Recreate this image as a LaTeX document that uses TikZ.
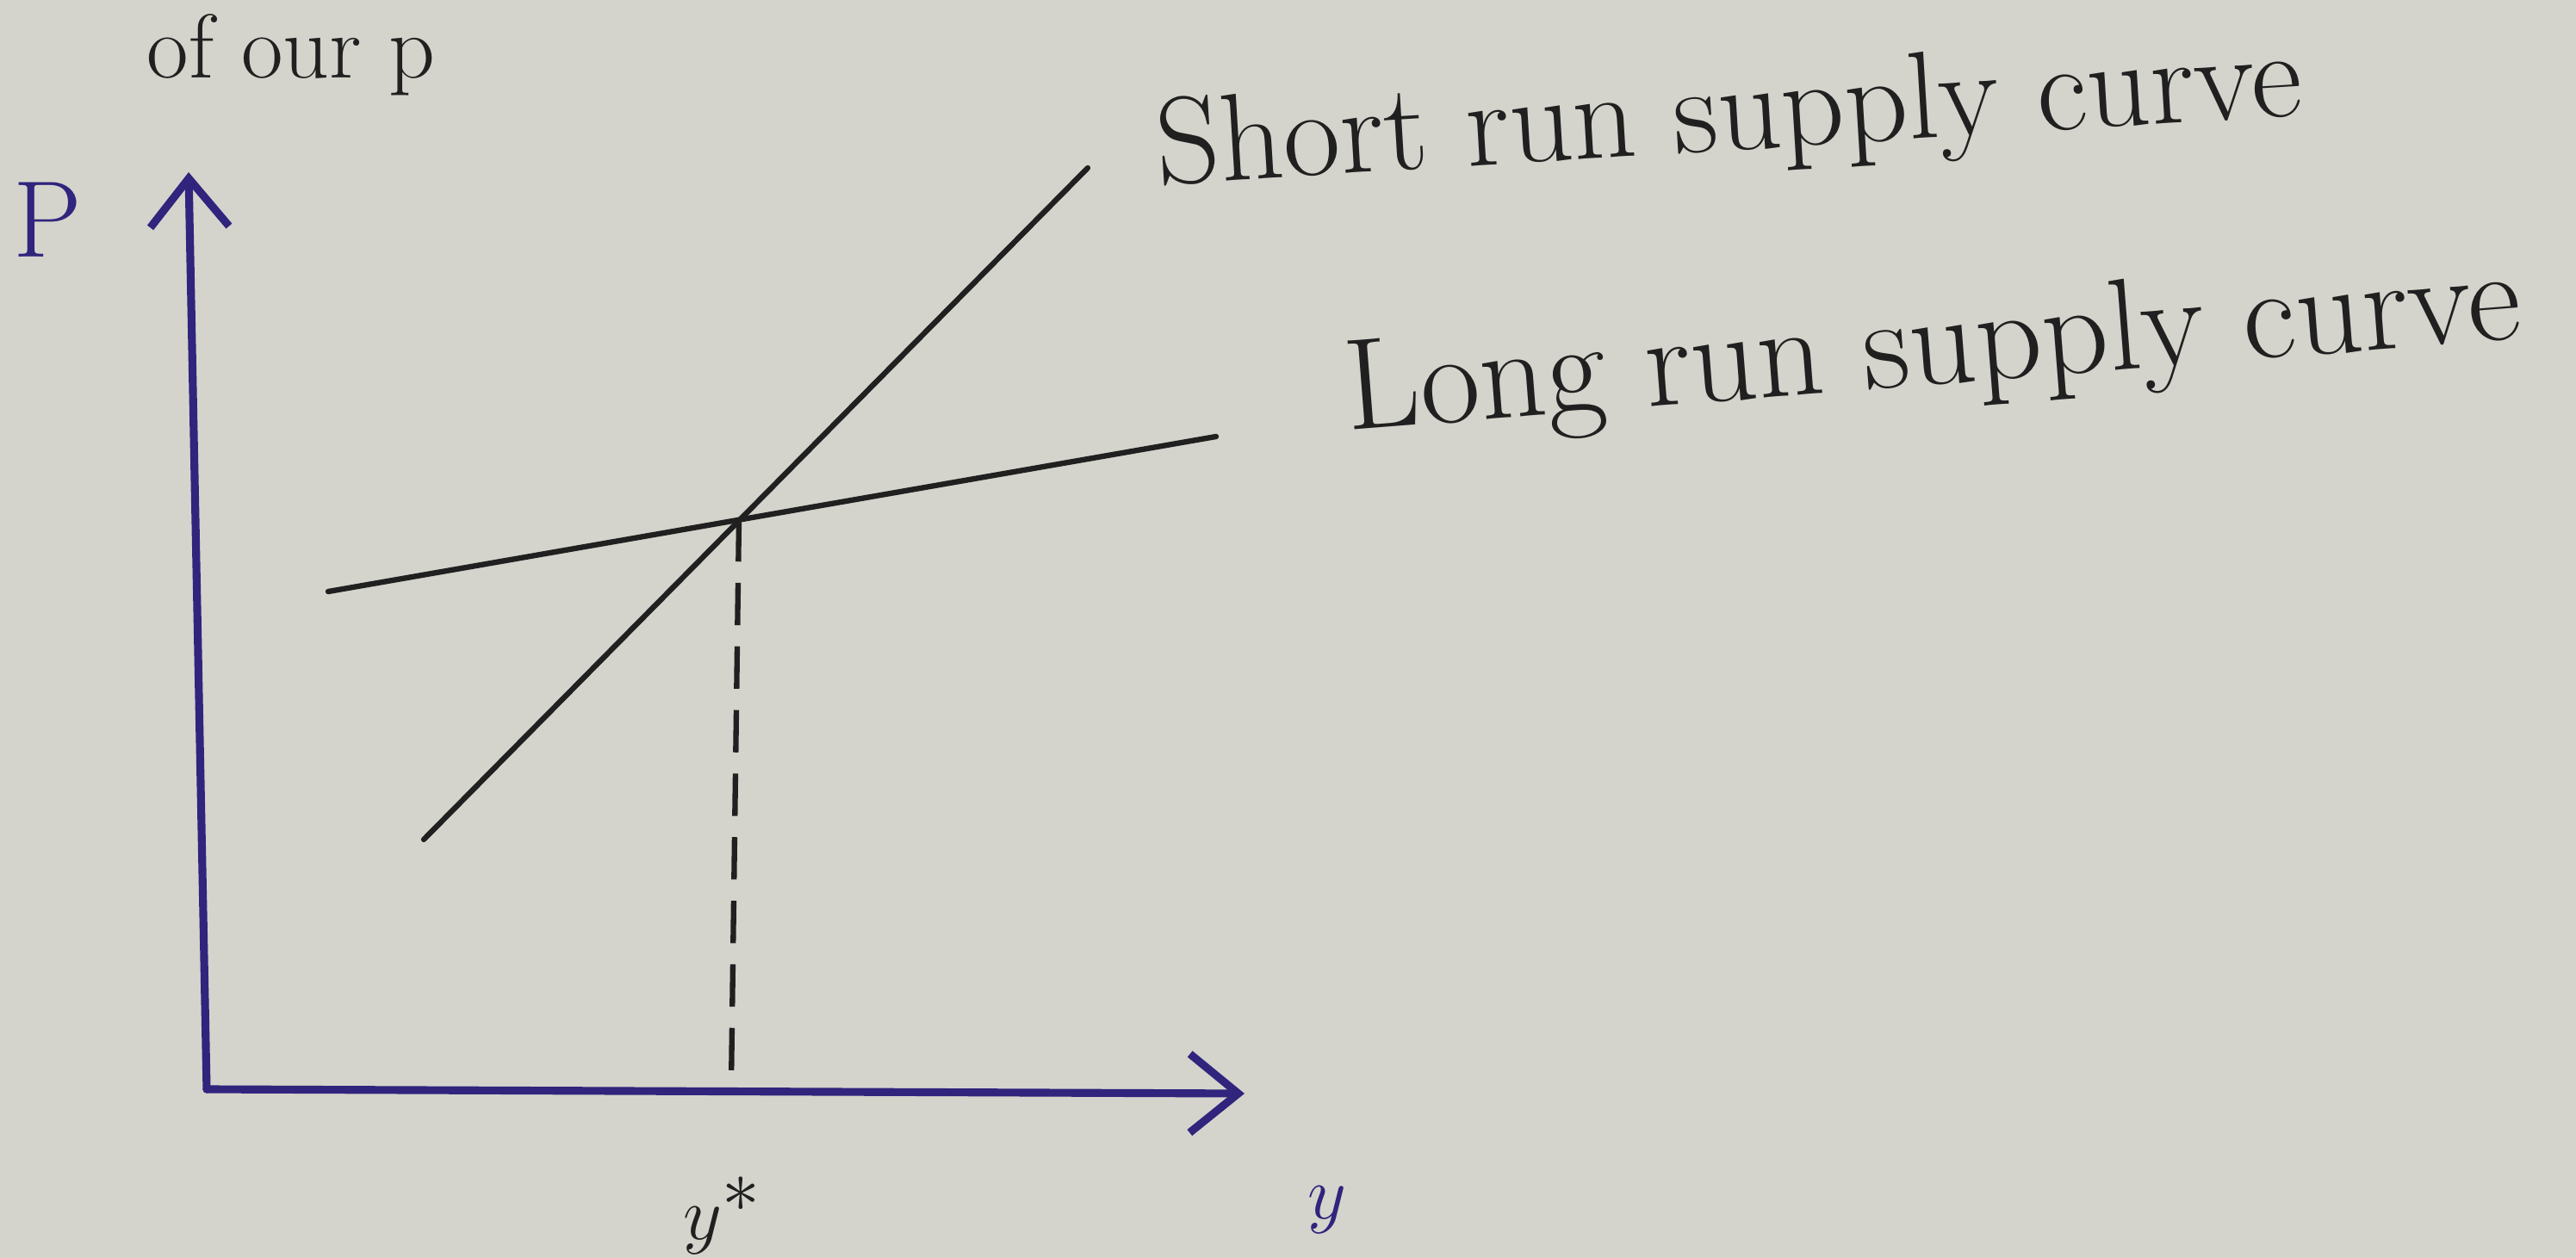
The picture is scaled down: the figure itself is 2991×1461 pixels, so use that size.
\documentclass[tikz,border=0pt]{standalone}
\usetikzlibrary{arrows.meta}
\definecolor{paper}{RGB}{212,212,204}
\definecolor{blueink}{RGB}{48,36,125}
\definecolor{blackink}{RGB}{32,32,32}
\begin{document}
\begin{tikzpicture}[x=0.01cm,y=-0.01cm,
  axis/.style={draw=blueink,line width=2.6pt,line cap=round},
  curve/.style={draw=blackink,line width=1.8pt,line cap=round},
  dashline/.style={draw=blackink,line width=1.8pt,dash pattern=on 14pt off 7pt},
  hand/.style={text=blackink,inner sep=0pt},
  blabel/.style={text=blueink,font=\fontsize{36}{40}\selectfont,inner sep=0pt}]
\fill[paper] (0,0) rectangle (2991,1461);
\useasboundingbox (0,0) rectangle (2991,1461);
% axes
\coordinate (O) at (240,1265);
\coordinate (ytip) at (219,200);
\coordinate (xtip) at (1445,1270);
\draw[axis,-{Straight Barb[length=16pt,width=26pt,line width=2.6pt]}] (O) -- (ytip);
\draw[axis,-{Straight Barb[length=16pt,width=26pt,line width=2.6pt]}] (O) -- (xtip);
% supply curves
\coordinate (S1) at (492,975);
\coordinate (S2) at (1263,195);
\coordinate (L1) at (381,687);
\coordinate (L2) at (1412,507);
\draw[curve] (S1) -- (S2);
\draw[curve] (L1) -- (L2);
\coordinate (E) at (858,603);
\coordinate (F) at (849,1262);
\draw[dashline] (E) -- (F);
% labels
\node[blabel] (P) at (55,255) {P};
\node[hand,font=\fontsize{38}{42}\selectfont] (ystar) at (839,1412) {$y^{*}$};
\node[blabel] (y) at (1541,1405) {$y$};
\node[hand,font=\fontsize{41}{45}\selectfont,anchor=base west,rotate=3.5] (short) at (1345,215) {Short run supply curve};
\node[hand,font=\fontsize{43}{47}\selectfont,anchor=base west,rotate=4.5] (long) at (1565,500) {Long run supply curve};
\node[hand,font=\fontsize{30}{34}\selectfont,anchor=north west] (top) at (170,16) {of our p};
\end{tikzpicture}
\end{document}
